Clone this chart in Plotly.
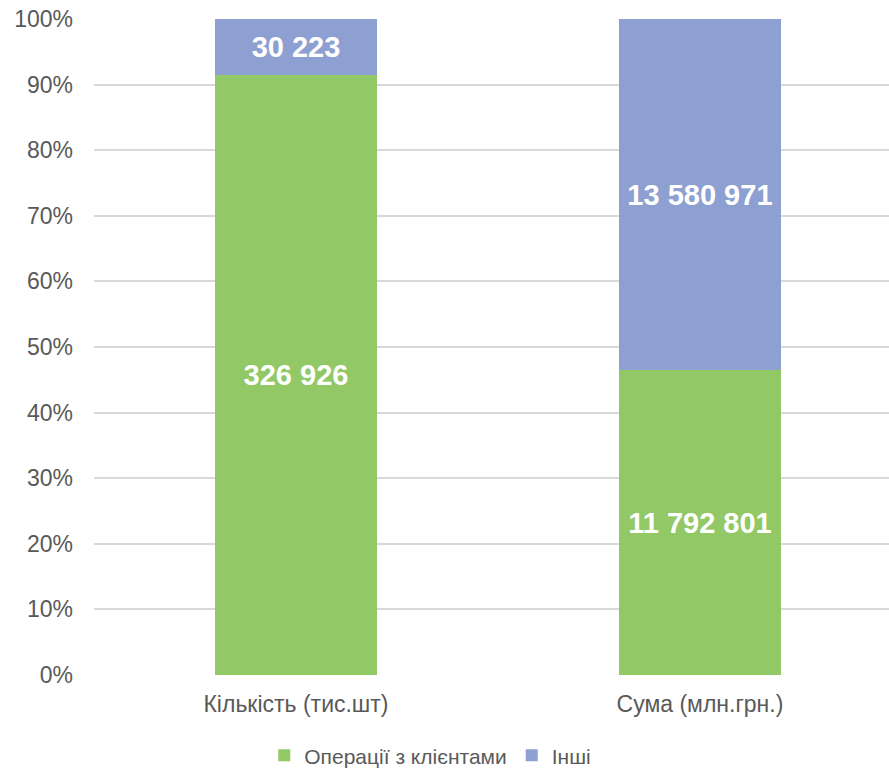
import plotly.graph_objects as go

categories = ["Кількість (тис.шт)", "Сума (млн.грн.)"]
clients = [326926, 11792801]
others = [30223, 13580971]
series_names = ["Операції з клієнтами", "Інші"]
tick_vals = [0, 10, 20, 30, 40, 50, 60, 70, 80, 90, 100]
tick_text = [f"{v}%" for v in tick_vals]

def fmt(v):
    return f"{v:,}".replace(",", " ")

green = "#92C865"
blue = "#8E9FD1"

fig = go.Figure()
for name, vals, col in [(series_names[0], clients, green), (series_names[1], others, blue)]:
    fig.add_trace(go.Bar(
        x=categories, y=vals, name=name, marker=dict(color=col, line=dict(width=0)),
        text=[fmt(v) for v in vals], textposition="inside", insidetextanchor="middle",
        textfont=dict(family="Liberation Sans, Arial", size=29, color="white", weight="bold"),
        textangle=0, width=0.4, hoverinfo="skip",
    ))

fig.update_layout(
    barmode="stack", barnorm="percent",
    width=889, height=768,
    margin=dict(l=94, r=0, t=19, b=93),
    paper_bgcolor="white", plot_bgcolor="white",
    font=dict(family="Liberation Sans, Arial", color="#595959", size=23),
    uniformtext=dict(mode=False),
    showlegend=True,
    legend=dict(orientation="h", xref="container", yref="container",
                x=0.484, xanchor="center", y=0.016, yanchor="middle",
                font=dict(size=21, color="#595959"), itemwidth=30, traceorder="normal"),
    xaxis=dict(range=[-0.5, 1.468], showgrid=False, showline=False, ticks="",
               ticklabelstandoff=13, tickfont=dict(size=23, color="#595959")),
    yaxis=dict(range=[0, 100], tickvals=tick_vals, ticktext=tick_text, showgrid=True,
               gridcolor="#D9D9D9", gridwidth=1.5, zeroline=False, showline=False,
               ticks="", ticklabelstandoff=20, ticklabeloverflow="allow",
               tickfont=dict(size=23, color="#595959")),
)

fig.write_html("out.html", config={"displayModeBar": False},
               post_script="document.body.style.margin='0';")
